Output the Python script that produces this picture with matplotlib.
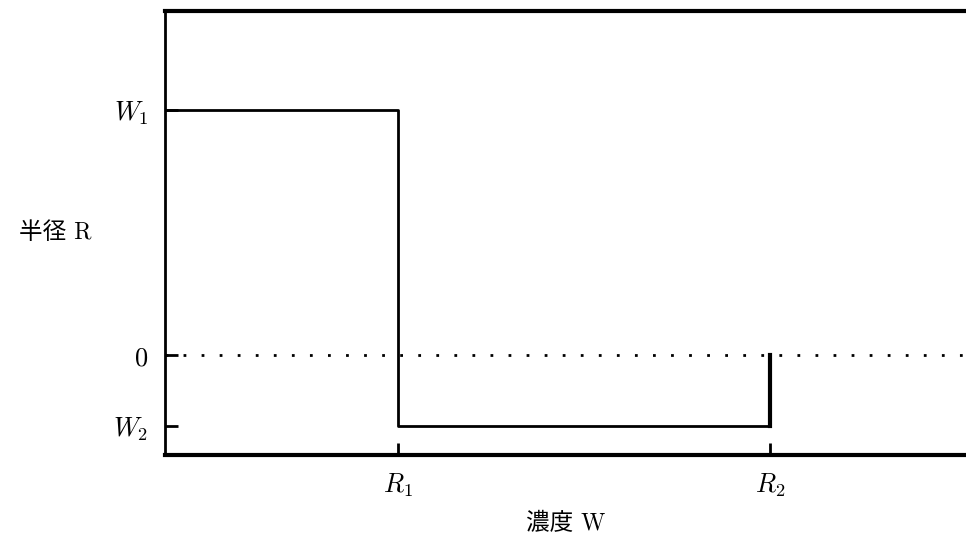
import matplotlib
matplotlib.use("Agg")
import matplotlib.pyplot as plt

plt.rcParams['mathtext.fontset'] = 'cm'
plt.rcParams['axes.unicode_minus'] = False

# step profile: W1 up to R1, W2 from R1 to R2, then back to 0
step_x = [0.0, 1.0, 1.0, 2.597, 2.597]
step_y = [1.0, 1.0, -0.29, -0.29, 0.0]
xtick_pos = [1.0, 2.597]
xtick_labels = [r'$R_1$', r'$R_2$']
ytick_pos = [1.0, 0.0, -0.29]
ytick_labels = [r'$W_1$', r'$0$', r'$W_2$']

fig = plt.figure(figsize=(9.66, 5.35), dpi=100)
ax = fig.add_axes([165/966, 80/535, 801/966, 444/535])

ax.plot(step_x, step_y, color='black', lw=2)
ax.plot([2.597, 2.597], [-0.29, 0.0], color='black', lw=3)
ax.axhline(0, color='black', lw=2, ls=(0, (1, 5.5)))

ax.set_xlim(0, 3.438)
ax.set_ylim(-0.408, 1.404)
ax.spines['right'].set_visible(False)
ax.spines['left'].set_linewidth(2)
ax.spines['top'].set_linewidth(3)
ax.spines['bottom'].set_linewidth(3)

ax.set_xticks(xtick_pos)
ax.set_xticklabels(xtick_labels)
ax.set_yticks(ytick_pos)
ax.set_yticklabels(ytick_labels)
ax.tick_params(direction='in', length=9, width=2, labelsize=19, pad=12)

fam = ['cmr10', 'Noto Sans CJK JP']
ax.set_xlabel('濃度 W', fontsize=17, labelpad=10, family=fam)
ax.set_ylabel('半径 R', fontsize=17, rotation=0, labelpad=42, va='center', family=fam)

fig.savefig('out.png', dpi=100)
